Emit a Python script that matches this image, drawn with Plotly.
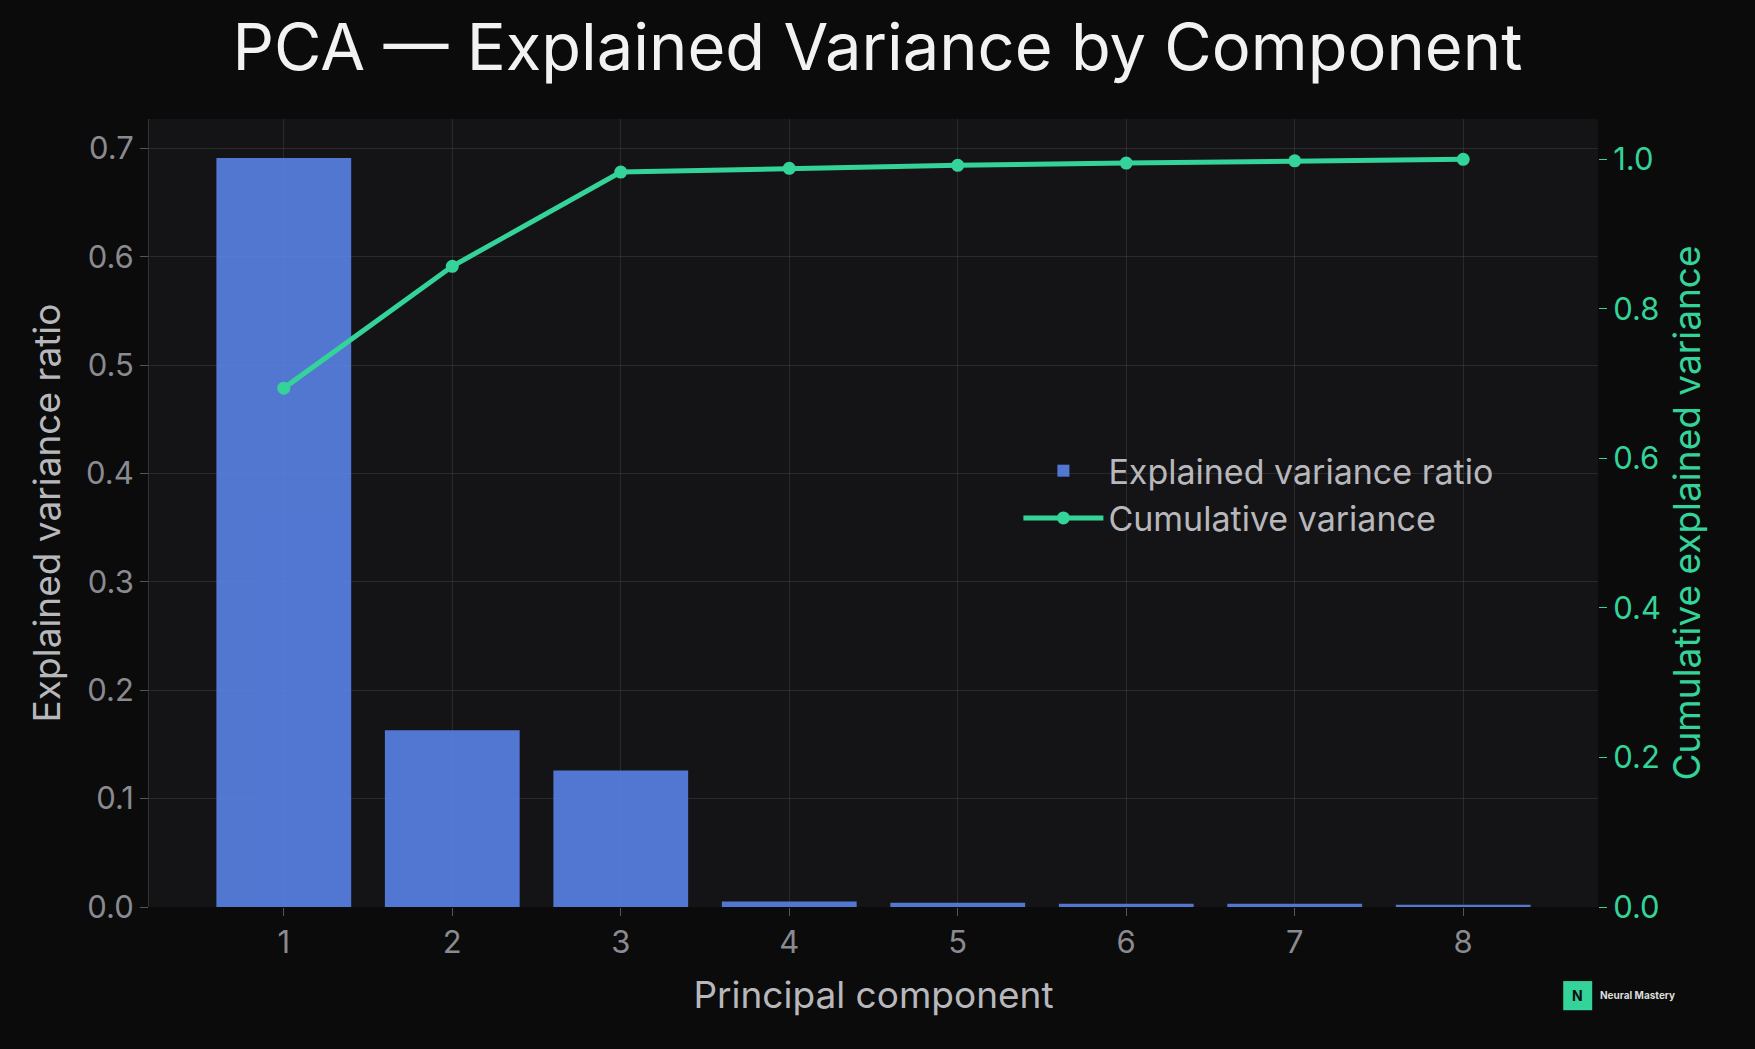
import plotly.graph_objects as go

components = [1, 2, 3, 4, 5, 6, 7, 8]
explained = [0.691, 0.163, 0.126, 0.005, 0.004, 0.003, 0.003, 0.002]
cumulative = [0.694, 0.857, 0.983, 0.988, 0.992, 0.995, 0.998, 1.0]

green = "#34d399"
fig = go.Figure()
fig.add_trace(go.Bar(x=components, y=explained, name="Explained variance ratio",
                     marker=dict(color="#5b85ec", line=dict(width=0)), opacity=0.88, width=0.8))
fig.add_trace(go.Scatter(x=components, y=cumulative, name="Cumulative variance", yaxis="y2",
                         mode="lines+markers", line=dict(color=green, width=5),
                         marker=dict(size=13, color=green)))
grid = "rgba(255,255,255,0.09)"
fig.update_layout(
    width=1755, height=1049, paper_bgcolor="#0b0b0b", plot_bgcolor="#141416",
    font=dict(family="Inter, Noto Sans", color="#b8b8bc", size=31),
    title=dict(text="PCA — Explained Variance by Component", x=0.5, y=0.955, xanchor="center",
               yanchor="middle", font=dict(size=65, color="#f2f2f2")),
    margin=dict(l=149, r=157, t=119, b=142),
    bargap=0.2,
    xaxis=dict(title=dict(text="Principal component", standoff=22), tickvals=components,
               range=[0.2, 8.8], showgrid=True, gridcolor=grid, zeroline=False,
               tickfont=dict(color="#8a8a90", size=31), ticks="outside", ticklen=8, tickcolor="#555"),
    yaxis=dict(title=dict(text="Explained variance ratio", standoff=14), range=[0, 0.727], dtick=0.1,
               tickformat=".1f", showgrid=True, gridcolor=grid, zeroline=False,
               tickfont=dict(color="#8a8a90", size=31), ticks="outside", ticklen=8, tickcolor="#555",
               showline=True, linecolor="#333"),
    yaxis2=dict(title=dict(text="Cumulative explained variance", font=dict(color=green), standoff=14),
                overlaying="y", side="right", range=[0, 1.054], dtick=0.2, tickformat=".1f",
                showgrid=False, zeroline=False, tickfont=dict(color=green, size=31),
                ticks="outside", ticklen=8, tickcolor=green),
    legend=dict(x=0.6, y=0.59, xanchor="left", yanchor="top", bgcolor="rgba(0,0,0,0)",
                font=dict(size=34, color="#b8b8bc"), itemwidth=80),
    showlegend=True,
)
fig.add_shape(type="rect", xref="paper", yref="paper", x0=0.976, x1=0.996, y0=-0.131, y1=-0.094,
              fillcolor=green, line=dict(width=0))
fig.add_annotation(xref="paper", yref="paper", x=0.986, y=-0.1125, text="<b>N</b>", showarrow=False,
                   xanchor="center", yanchor="middle", font=dict(size=14, color="#0b0b0b"))
fig.add_annotation(xref="paper", yref="paper", x=1.0, y=-0.1125, xanchor="left", yanchor="middle",
                   text="<b>Neural Mastery</b>", showarrow=False, font=dict(size=10, color="#dddddd"))
fig.write_html("out.html", config={"displayModeBar": False},
               post_script="document.body.style.margin='0';document.body.style.background='#0b0b0b';")
